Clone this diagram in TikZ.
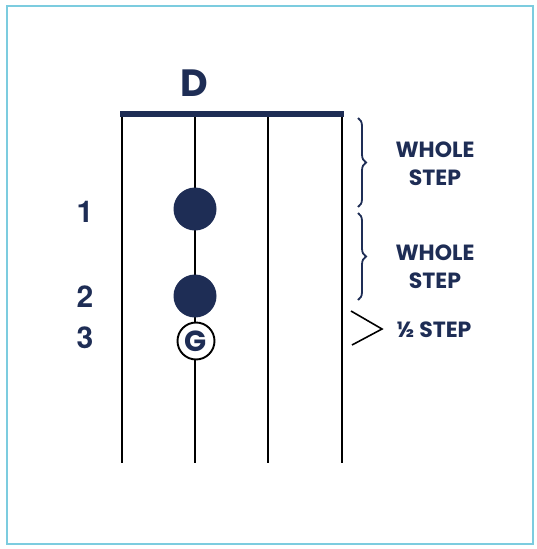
\documentclass[tikz,border=0pt]{standalone}
\usepackage{fontspec}
\setmainfont{Poppins}
\newfontfamily\numfont{TeX Gyre Heros}
\usetikzlibrary{decorations.pathreplacing}
\definecolor{navy}{HTML}{1E2D55}
\definecolor{frameblue}{HTML}{7CCCDF}
\tikzset{
  fretstring/.style={line width=1.1pt, black},
  fingerdot/.style={circle, fill=navy, minimum size=43pt, inner sep=0pt},
  opennote/.style={circle, draw=black, line width=1.9pt, fill=white, minimum size=37pt, inner sep=0pt,
    font=\fontsize{29}{29}\selectfont\bfseries, text=navy},
  fingernum/.style={font=\numfont\fontsize{30}{30}\selectfont\bfseries, text=navy},
  steplabel/.style={font=\fontsize{22}{28}\selectfont\bfseries, text=navy, align=center},
  stepbrace/.style={decorate, decoration={brace, amplitude=8pt}, line width=1.8pt, navy},
}
\begin{document}
\begin{tikzpicture}[x=1pt, y=-1pt]
  \useasboundingbox (0,0) rectangle (537,549);
  % outer frame
  \draw[frameblue, line width=2.4pt] (7,6) rectangle (533,544);

  % strings
  \foreach \i/\x in {1/122, 2/195, 3/268, 4/342} {
    \coordinate (top\i) at (\x,116);
    \coordinate (bot\i) at (\x,463);
    \draw[fretstring] (top\i) -- (bot\i);
  }
  % nut
  \draw[navy, line width=6pt] (120,114) -- (344,114);

  % chord name
  \node[font=\fontsize{38}{38}\selectfont\bfseries, text=navy] (chord) at (194,83) {D};

  % finger positions
  \node[fingerdot] (dot1) at (195,209) {};
  \node[fingerdot] (dot2) at (195,296) {};
  \node[opennote] (gnote) at (196,341) {G};

  % finger numbers
  \node[fingernum] (n1) at (85,212) {1};
  \node[fingernum] (n2) at (85,297) {2};
  \node[fingernum] (n3) at (85,338) {3};

  % interval braces
  \coordinate (b1s) at (358,118);
  \coordinate (b1e) at (358,207);
  \coordinate (b2s) at (358,213);
  \coordinate (b2e) at (358,300);
  \draw[stepbrace] (b1s) -- (b1e);
  \draw[stepbrace] (b2s) -- (b2e);

  % half-step angle
  \coordinate (h1) at (351,311);
  \coordinate (h2) at (382,329);
  \coordinate (h3) at (352,345);
  \draw[black, line width=1.6pt] (h1) -- (h2) -- (h3);

  % interval labels
  \node[steplabel] (w1) at (435,164) {WHOLE\\STEP};
  \node[steplabel] (w2) at (435,267) {WHOLE\\STEP};
  \node[steplabel, anchor=west] (half) at (393,330) {\fontsize{22}{22}\selectfont ½ STEP};
\end{tikzpicture}
\end{document}
